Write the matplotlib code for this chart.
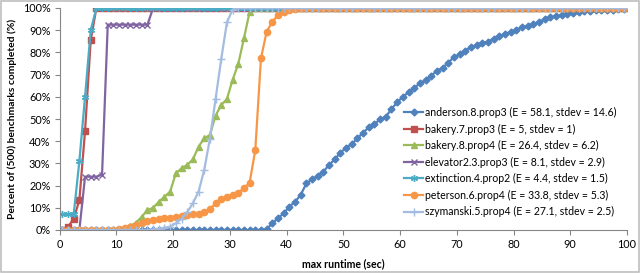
import numpy as np
import matplotlib
matplotlib.use("Agg")
import matplotlib.pyplot as plt
from matplotlib.patches import Rectangle

plt.rcParams["font.family"] = ["Lato", "DejaVu Sans"]

# runtime limit in seconds (1..100); each point drawn at the middle of its second
seconds = list(range(1, 101))

anderson = ([0] * 36 +
            [0.4, 3, 5.3, 7.5, 10.5, 12.7, 15.8, 21, 22.8, 24.5,
             26.3, 29.3, 31.8, 34.8, 37, 38.7, 41.3, 43.8, 46.3, 47.7,
             49.9, 51, 54.5, 57.5, 60, 62, 64, 66, 67.6, 69.4,
             71.8, 72.9, 75.4, 77.8, 79.1, 80.8, 82.3, 83.3, 84.1, 84.8,
             86.2, 87.4, 88.3, 89.2, 90.1, 91.3, 91.9, 92.8, 93.7, 94.9,
             95.8, 96.4, 96.8, 97.3, 97.9, 98.3, 98.6, 98.8, 99, 99,
             99.2, 99.2, 99.4, 99.4])
bakery7 = [0, 1.5, 5, 13.5, 44.5, 85.5] + [100] * 94
bakery8 = ([0] * 11 +
           [0.8, 2, 3.3, 6, 9, 10, 12.7, 15, 17.3, 25.5, 27.8, 29.3,
            31.8, 37.5, 41.3, 42.8, 51.5, 56.3, 59, 67.6, 74.8, 86.3, 98.3] +
           [100] * 66)
elevator = [0] * 4 + [24, 24, 24, 25] + [92.5] * 8 + [100] * 84
extinction = [7, 7, 7, 31, 60, 90] + [100] * 94
peterson = ([0] * 10 +
            [0.5, 1, 1.5, 2.3, 3.2, 4, 4.5, 5, 5.3, 5.5, 5.8, 6.2, 6.6,
             7, 7.3, 8, 9.3, 12, 13.8, 14.7, 15.8, 16.8, 18.8, 21.3, 36,
             77.3, 89.3, 93.8, 96.8, 98, 99, 99.5, 99.8] +
            [100] * 57)
szymanski = ([0] * 16 +
             [0.3, 0.6, 1, 1.5, 3, 5, 8, 12, 17.3, 27, 41, 59, 77, 93.5, 99.3] +
             [100] * 69)

labels = [
    "anderson.8.prop3 (E = 58.1, stdev = 14.6)",
    "bakery.7.prop3 (E = 5, stdev = 1)",
    "bakery.8.prop4 (E = 26.4, stdev = 6.2)",
    "elevator2.3.prop3 (E = 8.1, stdev = 2.9)",
    "extinction.4.prop2 (E = 4.4, stdev = 1.5)",
    "peterson.6.prop4 (E = 33.8, stdev = 5.3)",
    "szymanski.5.prop4 (E = 27.1, stdev = 2.5)",
]
series = [anderson, bakery7, bakery8, elevator, extinction, peterson, szymanski]
colors = ["#4F81BD", "#C0504D", "#9BBB59", "#8064A2", "#4BACC6", "#F79646", "#A3BCE0"]
markers = ["D", "s", "^", "x", (6, 2, 0), "o", "+"]
msizes = [3.5, 4.5, 4.5, 4.5, 5, 4.5, 5.5]

fig = plt.figure(figsize=(6.4, 2.73), dpi=100)
fig.patches.append(Rectangle((0.001, 0.002), 0.997, 0.995, transform=fig.transFigure,
                             fill=False, edgecolor="#BFBFBF", linewidth=1.2))
ax = fig.add_axes([59.5 / 640, 43 / 273, 567.5 / 640, 222 / 273])

x = np.array(seconds) - 0.5
for y, lab, c, m, ms in zip(series, labels, colors, markers, msizes):
    ax.plot(x, y, color=c, marker=m, markersize=ms, linewidth=1.6,
            markeredgewidth=1.0, label=lab)

ax.set_xlim(0, 100)
ax.set_ylim(0, 100)
ax.set_xticks(range(0, 101, 10))
ax.set_yticks(range(0, 101, 10))
ax.set_yticklabels([f"{v}%" for v in range(0, 101, 10)])
for s in ["top", "right"]:
    ax.spines[s].set_visible(False)
for s in ["left", "bottom"]:
    ax.spines[s].set_color("#868686")
ax.tick_params(axis="both", colors="#868686", labelcolor="black", labelsize=7.8,
               length=3.5, direction="out", pad=3)

ax.set_xlabel("max runtime (sec)", fontsize=7.6, fontweight="bold", labelpad=6)
ax.set_ylabel("Percent of (500) benchmarks completed (%)", fontsize=7.4,
              fontweight="bold", labelpad=4)

ax.legend(loc="upper left", bbox_to_anchor=(404 / 640, 1 - 107 / 273),
          bbox_transform=fig.transFigure, frameon=False, fontsize=7.6,
          handlelength=1.8, handletextpad=0.2, labelspacing=0.52,
          borderpad=0, borderaxespad=0)

plt.savefig("out.png", dpi=100)
